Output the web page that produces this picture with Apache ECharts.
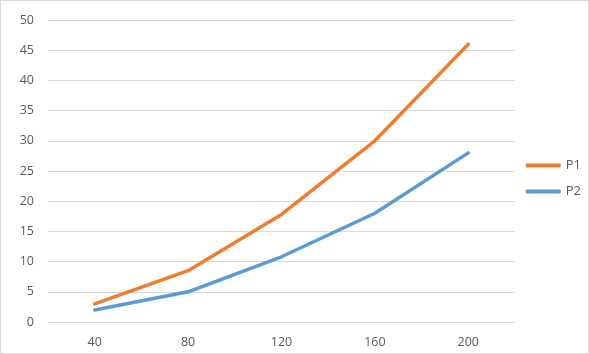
<!DOCTYPE html>
<html><head><meta charset="utf-8">
<script src="https://cdn.jsdelivr.net/npm/echarts@6/dist/echarts.min.js"></script>
<style>html,body{margin:0;padding:0;background:#fff}#c{width:589px;height:354px;box-sizing:border-box;border:1px solid #d9d9d9}</style>
</head><body><div id="c"></div>
<script>
var categories = ['40','80','120','160','200'];
var p1 = [3, 8.5, 17.8, 30, 46];
var p2 = [2, 5, 10.8, 18, 28];
var chart = echarts.init(document.getElementById('c'));
var txt = {color:'#595959', fontFamily:'Open Sans, Liberation Sans, sans-serif', fontSize:12.5};
chart.setOption({
  animation:false,
  grid:{left:47, right:73, top:19, bottom:31, containLabel:false},
  legend:{orient:'vertical', right:2, top:153, itemGap:13, itemWidth:35, itemHeight:4,
    icon:'roundRect', textStyle:Object.assign({}, txt, {fontSize:13}),
    data:[{name:'P1'},{name:'P2'}]},
  xAxis:{type:'category', data:categories, boundaryGap:true,
    axisLine:{show:false}, axisTick:{show:false},
    axisLabel:Object.assign({margin:14}, txt)},
  yAxis:{type:'value', min:0, max:50, interval:5,
    axisLine:{show:false}, axisTick:{show:false},
    splitLine:{lineStyle:{color:'#d9d9d9', width:1}},
    axisLabel:Object.assign({margin:14}, txt)},
  series:[
    {name:'P1', type:'line', data:p1, symbol:'none', lineStyle:{color:'#ED7D31', width:3.5, cap:'round', join:'round'}, itemStyle:{color:'#ED7D31'}},
    {name:'P2', type:'line', data:p2, symbol:'none', lineStyle:{color:'#5B9BD5', width:3.5, cap:'round', join:'round'}, itemStyle:{color:'#5B9BD5'}}
  ]
});
</script></body></html>
